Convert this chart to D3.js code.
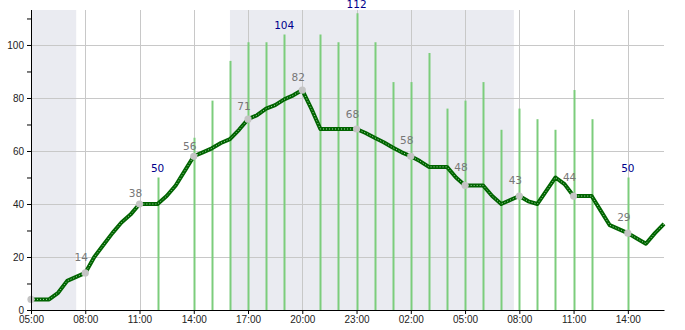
<!DOCTYPE html>
<html>
<head>
<meta charset="utf-8">
<script src="https://cdn.jsdelivr.net/npm/d3@7"></script>
<style>
  body { margin: 0; background: #fff; }
  svg { display: block; font-family: "DejaVu Sans", sans-serif; }
  .axis text { font-size: 10px; fill: #222; }
  .axis path, .axis line { stroke: #000; }
</style>
</head>
<body>
<div id="chart"></div>
<script>
// hours after 05:00 on day one
const lineHours = d3.range(0, 35.5, 0.5);
const lineVals = [4, 4, 4, 6.5, 11, 12.5, 14, 20, 24.5, 29, 33, 36, 40, 40, 40, 43, 47, 52.5, 58, 59.5,
  61, 63, 64.5, 68, 72, 73.5, 76, 77.3, 79.5, 81, 83, 76, 68.3, 68.3, 68.3, 68.3, 68.3, 66.8, 65, 63.3,
  61.3, 59.5, 58, 56.2, 54, 54, 54, 50, 47, 47, 47, 43, 40, 41.5, 43, 41, 40, 45, 50, 47.5,
  43, 43, 43, 37.5, 32, 30.5, 29, 27, 25, 29, 32.5];

const barHours = [7, 9, 10, 11, 12, 13, 14, 16, 17, 18, 19, 20, 21, 22, 23, 24, 25, 26, 27, 28, 29, 30, 31, 33];
const barVals = [50, 65, 79, 94, 101, 101, 104, 104, 101, 112, 101, 86, 86, 97, 76, 79, 86, 68, 76, 72, 68, 83, 72, 50];
const barLabelHours = [7, 14, 18, 33];

const markHours = [0, 3, 6, 9, 12, 15, 18, 21, 24, 27, 30, 33];
const markLabels = [null, 14, 38, 56, 71, 82, 68, 58, 48, 43, 44, 29];

const nightBands = [[0, 2.5], [11, 26.7]];
const xTicks = d3.range(0, 35, 3);

const W = 685, H = 330, m = { l: 31, r: 21, t: 10, b: 20 };
const x = d3.scaleLinear().domain([0, 35]).range([m.l, W - m.r]);
const y = d3.scaleLinear().domain([0, 113.2]).range([H - m.b, m.t]);
const fmtHour = (h) => String((5 + h) % 24).padStart(2, "0") + ":00";

const svg = d3.select("#chart").append("svg").attr("width", W).attr("height", H);

// night shading
svg.append("g").selectAll("rect").data(nightBands).join("rect")
  .attr("x", (d) => x(d[0])).attr("width", (d) => x(d[1]) - x(d[0]))
  .attr("y", m.t).attr("height", H - m.b - m.t).attr("fill", "#eaebf1");

// grid
const grid = svg.append("g").attr("stroke", "#c8c8c8").attr("stroke-width", 1);
grid.selectAll("line.gy").data(d3.range(20, 111, 20)).join("line").attr("class", "gy")
  .attr("x1", m.l).attr("x2", W - m.r)
  .attr("y1", (d) => Math.round(y(d)) + 0.5).attr("y2", (d) => Math.round(y(d)) + 0.5);
grid.selectAll("line.gx").data(xTicks.slice(1)).join("line").attr("class", "gx")
  .attr("x1", (d) => Math.round(x(d)) + 0.5).attr("x2", (d) => Math.round(x(d)) + 0.5)
  .attr("y1", m.t).attr("y2", H - m.b);

// bars
svg.append("g").selectAll("line").data(barHours).join("line")
  .attr("x1", (d) => Math.round(x(d)) + 0.5).attr("x2", (d) => Math.round(x(d)) + 0.5)
  .attr("y1", y(0)).attr("y2", (d, i) => y(barVals[i]))
  .attr("stroke", "#7ccd7c").attr("stroke-width", 2);

svg.append("g").selectAll("text").data(barLabelHours).join("text")
  .attr("x", (d) => x(d)).attr("y", (d) => y(barVals[barHours.indexOf(d)]) - 5)
  .attr("text-anchor", "middle").attr("font-size", 10.5).attr("fill", "#00008b")
  .text((d) => barVals[barHours.indexOf(d)]);

// line
const line = d3.line().x((d, i) => x(lineHours[i])).y((d) => y(d));
svg.append("path").datum(lineVals).attr("d", line).attr("fill", "none")
  .attr("stroke", "#006400").attr("stroke-width", 4).attr("stroke-linejoin", "round");
svg.append("path").datum(lineVals).attr("d", line).attr("fill", "none")
  .attr("stroke", "#a8d8a8").attr("stroke-width", 1).attr("stroke-dasharray", "1 2");

// 3-hourly markers
const valAt = (h) => lineVals[lineHours.indexOf(h)];
svg.append("g").selectAll("circle").data(markHours).join("circle")
  .attr("cx", (d) => x(d)).attr("cy", (d) => y(valAt(d))).attr("r", 3.6).attr("fill", "#c4c4c4");
svg.append("g").selectAll("text").data(markHours.filter((d, i) => markLabels[i] != null)).join("text")
  .attr("x", (d) => x(d) - 4).attr("y", (d) => y(markLabels[markHours.indexOf(d)]) - 12)
  .attr("text-anchor", "middle").attr("font-size", 10.5).attr("fill", "#777")
  .text((d) => markLabels[markHours.indexOf(d)]);

// axes
svg.append("g").attr("class", "axis").attr("transform", `translate(${m.l},0)`)
  .call(d3.axisLeft(y).tickValues(d3.range(0, 111, 10)).tickSize(4).tickSizeOuter(0)
    .tickFormat((d) => d % 20 === 0 ? d : ""))
  .call((g) => g.select(".domain").attr("d", `M0.5,${m.t}V${H - m.b}`));
svg.append("g").attr("class", "axis").attr("transform", `translate(0,${H - m.b})`)
  .call(d3.axisBottom(x).tickValues(xTicks).tickSize(4).tickSizeOuter(0).tickFormat(fmtHour))
  .call((g) => g.selectAll(".tick text").attr("dy", "0.55em"));
</script>
</body>
</html>
